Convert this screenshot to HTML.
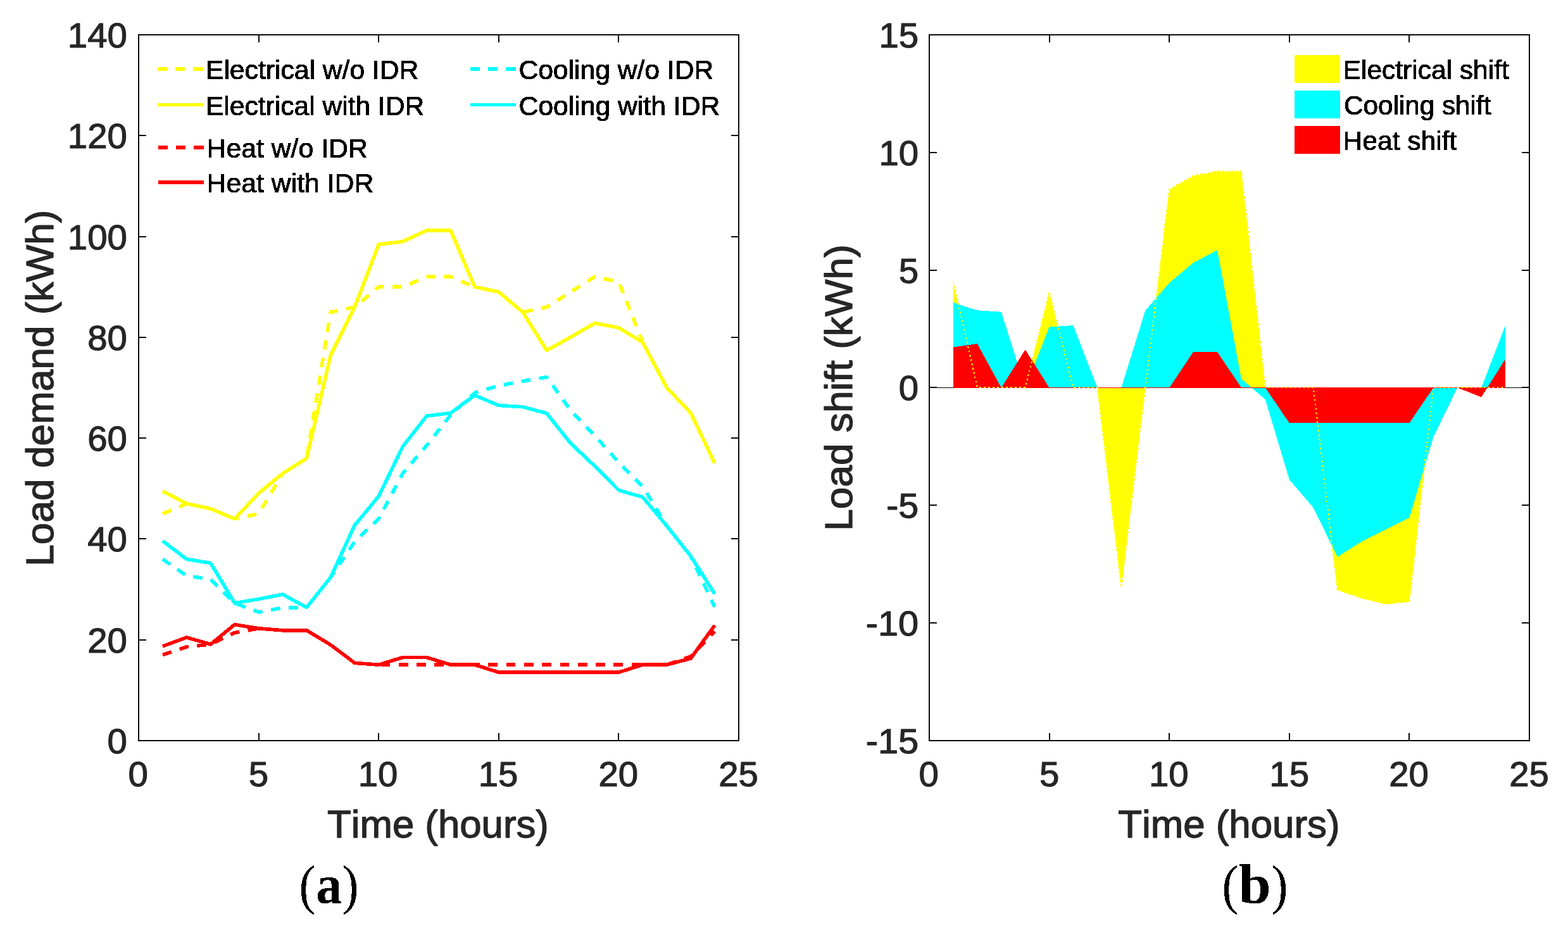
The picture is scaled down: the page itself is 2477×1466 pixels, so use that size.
<!DOCTYPE html>
<html lang="en"><head><meta charset="utf-8"><title>Load demand and load shift with IDR</title>
<style>
html,body{margin:0;padding:0;background:#fff;}
body{width:2477px;height:1466px;overflow:hidden;}
svg{display:block;}
text{font-family:"Liberation Sans",sans-serif;font-kerning:none;font-variant-ligatures:none;white-space:pre;}
.tk{font-size:56.3px;fill:#262626;stroke:#262626;stroke-width:1.2px;stroke-linejoin:round;}
.al{font-size:61.5px;fill:#262626;stroke:#262626;stroke-width:1.3px;stroke-linejoin:round;}
.lg{font-size:42px;fill:#000;stroke:#000;stroke-width:0.9px;stroke-linejoin:round;}
.cap{font-family:"Liberation Serif",serif;font-size:86px;fill:#000;}
.crisp{shape-rendering:crispEdges;}
</style></head><body>
<svg xmlns="http://www.w3.org/2000/svg" width="2477" height="1466" viewBox="0 0 2477 1466">
<defs><filter id="hard" x="-5%" y="-30%" width="110%" height="160%" color-interpolation-filters="sRGB"><feComponentTransfer><feFuncA type="discrete" tableValues="0 1"/></feComponentTransfer></filter></defs>
<rect x="0" y="0" width="2477" height="1466" fill="#ffffff"/>
<g id="plot-a">
<polyline class="crisp" points="256.92,811.61 294.84,795.68 332.76,803.64 370.68,819.57 408.60,811.61 446.52,747.89 484.44,724.00 522.36,493.04 560.28,485.07 598.20,453.21 636.12,453.21 674.04,437.29 711.96,437.29 749.88,453.21 787.80,461.18 825.72,493.04 863.64,485.07 901.56,461.18 939.48,437.29 977.40,445.25 1015.32,540.82 1053.24,612.50 1091.16,652.32 1129.08,731.96" fill="none" stroke="#ffff00" stroke-width="5.60" stroke-linejoin="round" stroke-linecap="butt" stroke-dasharray="14.8 13.5"/>
<polyline class="crisp" points="256.92,775.77 294.84,795.68 332.76,803.64 370.68,819.57 408.60,779.27 446.52,747.89 484.44,724.00 522.36,560.73 560.28,485.07 598.20,386.15 636.12,381.54 674.04,364.01 711.96,364.01 749.88,453.21 787.80,461.18 825.72,493.04 863.64,553.56 901.56,532.46 939.48,510.56 977.40,517.73 1015.32,540.82 1053.24,612.50 1091.16,652.32 1129.08,731.96" fill="none" stroke="#ffff00" stroke-width="5.60" stroke-linejoin="round" stroke-linecap="butt"/>
<polyline class="crisp" points="256.92,1034.61 294.84,1021.86 332.76,1017.88 370.68,999.56 408.60,992.79 446.52,995.82 484.44,995.82 522.36,1018.68 560.28,1047.35 598.20,1050.14 636.12,1050.14 674.04,1050.14 711.96,1050.14 749.88,1050.14 787.80,1050.14 825.72,1050.14 863.64,1050.14 901.56,1050.14 939.48,1050.14 977.40,1050.14 1015.32,1050.14 1053.24,1050.14 1091.16,1037.00 1129.08,997.57" fill="none" stroke="#ff0000" stroke-width="5.60" stroke-linejoin="round" stroke-linecap="butt" stroke-dasharray="14.8 13.5"/>
<polyline class="crisp" points="256.92,1020.91 294.84,1006.97 332.76,1017.88 370.68,986.66 408.60,992.79 446.52,995.82 484.44,995.82 522.36,1018.68 560.28,1047.35 598.20,1050.14 636.12,1038.59 674.04,1038.59 711.96,1050.14 749.88,1050.14 787.80,1062.08 825.72,1062.08 863.64,1062.08 901.56,1062.08 939.48,1062.08 977.40,1062.08 1015.32,1050.14 1053.24,1050.14 1091.16,1040.18 1129.08,987.86" fill="none" stroke="#ff0000" stroke-width="5.60" stroke-linejoin="round" stroke-linecap="butt"/>
<polyline class="crisp" points="256.92,883.29 294.84,909.57 332.76,915.14 370.68,952.81 408.60,966.91 446.52,960.14 484.44,959.58 522.36,911.96 560.28,855.81 598.20,819.57 636.12,747.89 674.04,703.69 711.96,655.51 749.88,620.46 787.80,609.31 825.72,602.15 863.64,595.77 901.56,648.34 939.48,688.16 977.40,730.37 1015.32,768.60 1053.24,830.72 1091.16,878.51 1129.08,958.95" fill="none" stroke="#00ffff" stroke-width="5.60" stroke-linejoin="round" stroke-linecap="butt" stroke-dasharray="14.8 13.5"/>
<polyline class="crisp" points="256.92,854.46 294.84,883.37 332.76,889.50 370.68,952.81 408.60,946.36 446.52,939.04 484.44,959.58 522.36,911.96 560.28,829.69 598.20,784.05 636.12,705.60 674.04,657.10 711.96,652.48 749.88,624.45 787.80,640.45 825.72,642.76 863.64,653.04 901.56,700.51 939.48,736.19 977.40,774.41 1015.32,785.33 1053.24,830.72 1091.16,878.51 1129.08,938.24" fill="none" stroke="#00ffff" stroke-width="5.60" stroke-linejoin="round" stroke-linecap="butt"/>
<g class="crisp" fill="#0b0b0b">
<rect x="218" y="54" width="950" height="2"/>
<rect x="218" y="1169" width="950" height="2"/>
<rect x="218" y="54" width="2" height="1117"/>
<rect x="1166" y="54" width="2" height="1117"/>
<rect x="408" y="1158" width="2" height="13"/>
<rect x="408" y="54" width="2" height="13"/>
<rect x="597" y="1158" width="2" height="13"/>
<rect x="597" y="54" width="2" height="13"/>
<rect x="787" y="1158" width="2" height="13"/>
<rect x="787" y="54" width="2" height="13"/>
<rect x="976" y="1158" width="2" height="13"/>
<rect x="976" y="54" width="2" height="13"/>
<rect x="218" y="1010" width="13" height="2"/>
<rect x="1155" y="1010" width="13" height="2"/>
<rect x="218" y="850" width="13" height="2"/>
<rect x="1155" y="850" width="13" height="2"/>
<rect x="218" y="691" width="13" height="2"/>
<rect x="1155" y="691" width="13" height="2"/>
<rect x="218" y="532" width="13" height="2"/>
<rect x="1155" y="532" width="13" height="2"/>
<rect x="218" y="373" width="13" height="2"/>
<rect x="1155" y="373" width="13" height="2"/>
<rect x="218" y="213" width="13" height="2"/>
<rect x="1155" y="213" width="13" height="2"/>
</g>
<text class="tk" x="169.49" y="1190.40">0</text>
<text class="tk" x="138.18" y="1031.40">20</text>
<text class="tk" x="138.18" y="871.40">40</text>
<text class="tk" x="138.18" y="712.40">60</text>
<text class="tk" x="138.18" y="553.40">80</text>
<text class="tk" x="106.87" y="394.40">100</text>
<text class="tk" x="106.87" y="234.40">120</text>
<text class="tk" x="106.87" y="75.40">140</text>
<text class="tk" x="202.49" y="1242.40">0</text>
<text class="tk" x="392.65" y="1242.40">5</text>
<text class="tk" x="565.68" y="1242.40">10</text>
<text class="tk" x="755.64" y="1242.40">15</text>
<text class="tk" x="945.38" y="1242.40">20</text>
<text class="tk" x="1135.14" y="1242.40">25</text>
<text class="al" transform="translate(517.07,1322.85) scale(1.0036,1)">Time (hours)</text>
<text class="al" transform="translate(84.45,894.74) rotate(-90) scale(1.0109,1)">Load demand (kWh)</text>
<rect class="crisp" x="249" y="106" width="15" height="6" fill="#ffff00"/>
<rect class="crisp" x="277" y="106" width="15" height="6" fill="#ffff00"/>
<rect class="crisp" x="305" y="106" width="16" height="6" fill="#ffff00"/>
<text class="lg" filter="url(#hard)" transform="translate(324.96,124.55) scale(1.0153,1)">Electrical w/o IDR</text>
<rect class="crisp" x="249" y="163" width="72" height="5" fill="#ffff00"/>
<text class="lg" filter="url(#hard)" transform="translate(324.96,181.55) scale(1.0138,1)">Electrical with IDR</text>
<rect class="crisp" x="250" y="230" width="15" height="6" fill="#ff0000"/>
<rect class="crisp" x="278" y="230" width="15" height="6" fill="#ff0000"/>
<rect class="crisp" x="306" y="230" width="16" height="6" fill="#ff0000"/>
<text class="lg" filter="url(#hard)" transform="translate(326.55,248.55) scale(1.0181,1)">Heat w/o IDR</text>
<rect class="crisp" x="250" y="285" width="72" height="6" fill="#ff0000"/>
<text class="lg" filter="url(#hard)" transform="translate(326.55,303.55) scale(1.0189,1)">Heat with IDR</text>
<rect class="crisp" x="743" y="106" width="15" height="6" fill="#00ffff"/>
<rect class="crisp" x="771" y="106" width="15" height="6" fill="#00ffff"/>
<rect class="crisp" x="799" y="106" width="16" height="6" fill="#00ffff"/>
<text class="lg" filter="url(#hard)" transform="translate(819.39,124.55) scale(1.0147,1)">Cooling w/o IDR</text>
<rect class="crisp" x="743" y="163" width="72" height="5" fill="#00ffff"/>
<text class="lg" filter="url(#hard)" transform="translate(819.39,181.55) scale(1.0168,1)">Cooling with IDR</text>
<g class="caption">
<text class="cap" filter="url(#hard)" transform="translate(472.46,1426.66) scale(0.9100,1.0015)">(</text>
<text class="cap" filter="url(#hard)" font-weight="bold" transform="translate(499.26,1426.55) scale(0.9531,1.0074)">a</text>
<text class="cap" filter="url(#hard)" transform="translate(540.25,1426.66) scale(0.9191,1.0015)">)</text>
</g>
</g>
<g id="plot-b">
<polygon class="crisp" points="1505.92,612.50 1505.92,445.25 1543.84,612.50 1581.76,612.50 1619.68,612.50 1657.60,461.60 1695.52,612.50 1733.44,612.50 1771.36,928.42 1809.28,612.50 1847.20,299.56 1885.12,278.00 1923.04,270.57 1960.96,270.57 1998.88,612.50 2036.80,612.50 2074.72,612.50 2112.64,932.13 2150.56,945.14 2188.48,954.43 2226.40,950.72 2264.32,612.50 2302.24,612.50 2340.16,612.50 2378.08,612.50 2378.08,612.50" fill="#ffff00"/>
<polygon class="crisp" points="1505.92,612.50 1505.92,477.96 1543.84,490.22 1581.76,492.82 1619.68,612.50 1657.60,516.61 1695.52,514.01 1733.44,612.50 1771.36,612.50 1809.28,490.59 1847.20,446.74 1885.12,415.15 1923.04,395.08 1960.96,598.38 1998.88,631.08 2036.80,757.82 2074.72,802.05 2112.64,879.73 2150.56,855.94 2188.48,836.62 2226.40,818.03 2264.32,690.55 2302.24,612.50 2340.16,612.50 2378.08,514.01 2378.08,612.50" fill="#00ffff"/>
<polygon class="crisp" points="1505.92,612.50 1505.92,548.57 1543.84,543.00 1581.76,612.50 1619.68,552.29 1657.60,612.50 1695.52,612.50 1733.44,612.50 1771.36,612.50 1809.28,612.50 1847.20,612.50 1885.12,556.01 1923.04,556.01 1960.96,612.50 1998.88,612.50 2036.80,668.25 2074.72,668.25 2112.64,668.25 2150.56,668.25 2188.48,668.25 2226.40,668.25 2264.32,612.50 2302.24,612.50 2340.16,627.37 2378.08,567.16 2378.08,612.50" fill="#ff0000"/>
<rect class="crisp" x="1506" y="612" width="872" height="1" fill="#ff0000"/>
<polyline class="crisp" points="1505.92,444.75 1543.84,612.00 1581.76,612.00 1619.68,612.00 1657.60,461.10 1695.52,612.00 1733.44,612.00 1771.36,927.92 1809.28,612.00 1847.20,299.06 1885.12,277.50 1923.04,270.07 1960.96,270.07 1998.88,612.00 2036.80,612.00 2074.72,612.00 2112.64,931.63 2150.56,944.64 2188.48,953.93 2226.40,950.22 2264.32,612.00 2302.24,612.00 2340.16,612.00 2378.08,612.00" fill="none" stroke="#ffff00" stroke-width="2.2" stroke-dasharray="2.4 4.6"/>
<rect class="crisp" x="1468" y="612" width="38" height="1" fill="#000"/>
<rect class="crisp" x="2378" y="612" width="38" height="1" fill="#000"/>
<g class="crisp" fill="#0b0b0b">
<rect x="1467" y="54" width="950" height="2"/>
<rect x="1467" y="1169" width="950" height="2"/>
<rect x="1467" y="54" width="2" height="1117"/>
<rect x="2415" y="54" width="2" height="1117"/>
<rect x="1657" y="1158" width="2" height="13"/>
<rect x="1657" y="54" width="2" height="13"/>
<rect x="1846" y="1158" width="2" height="13"/>
<rect x="1846" y="54" width="2" height="13"/>
<rect x="2036" y="1158" width="2" height="13"/>
<rect x="2036" y="54" width="2" height="13"/>
<rect x="2225" y="1158" width="2" height="13"/>
<rect x="2225" y="54" width="2" height="13"/>
<rect x="1467" y="240" width="13" height="2"/>
<rect x="2404" y="240" width="13" height="2"/>
<rect x="1467" y="426" width="13" height="2"/>
<rect x="2404" y="426" width="13" height="2"/>
<rect x="1467" y="611" width="13" height="2"/>
<rect x="2404" y="611" width="13" height="2"/>
<rect x="1467" y="797" width="13" height="2"/>
<rect x="2404" y="797" width="13" height="2"/>
<rect x="1467" y="983" width="13" height="2"/>
<rect x="2404" y="983" width="13" height="2"/>
</g>
<text class="tk" transform="translate(1367.75,1190.40) scale(1.0257,1)">-15</text>
<text class="tk" transform="translate(1367.75,1004.40) scale(1.0235,1)">-10</text>
<text class="tk" transform="translate(1400.27,818.40) scale(1.0174,1)">-5</text>
<text class="tk" x="1419.69" y="632.40">0</text>
<text class="tk" x="1419.85" y="447.40">5</text>
<text class="tk" x="1388.38" y="261.40">10</text>
<text class="tk" x="1388.54" y="75.40">15</text>
<text class="tk" x="1451.59" y="1242.40">0</text>
<text class="tk" x="1641.95" y="1242.40">5</text>
<text class="tk" x="1814.88" y="1242.40">10</text>
<text class="tk" x="2005.34" y="1242.40">15</text>
<text class="tk" x="2194.18" y="1242.40">20</text>
<text class="tk" x="2384.14" y="1242.40">25</text>
<text class="al" transform="translate(1766.26,1322.85) scale(1.0051,1)">Time (hours)</text>
<text class="al" transform="translate(1346.25,838.74) rotate(-90) scale(1.0112,1)">Load shift (kWh)</text>
<rect class="crisp" x="2045" y="87" width="72" height="44" fill="#ffff00"/>
<text class="lg" filter="url(#hard)" transform="translate(2121.57,124.55) scale(1.0128,1)">Electrical shift</text>
<rect class="crisp" x="2045" y="143" width="72" height="44" fill="#00ffff"/>
<text class="lg" filter="url(#hard)" transform="translate(2122.91,180.55) scale(1.0066,1)">Cooling shift</text>
<rect class="crisp" x="2045" y="199" width="72" height="44" fill="#ff0000"/>
<text class="lg" filter="url(#hard)" transform="translate(2121.56,236.55) scale(1.0140,1)">Heat shift</text>
<g class="caption">
<text class="cap" filter="url(#hard)" transform="translate(1930.46,1426.66) scale(0.9100,1.0015)">(</text>
<text class="cap" filter="url(#hard)" font-weight="bold" transform="translate(1956.84,1427.22) scale(1.0658,1.0444)">b</text>
<text class="cap" filter="url(#hard)" transform="translate(2008.35,1426.66) scale(0.9191,1.0015)">)</text>
</g>
</g>
</svg>
</body></html>
